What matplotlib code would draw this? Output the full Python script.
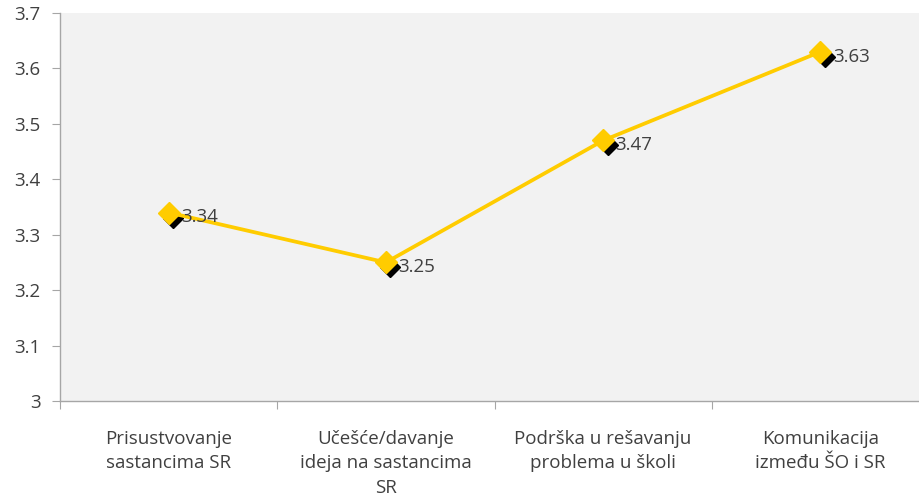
import matplotlib
matplotlib.use("Agg")
import matplotlib.pyplot as plt
from matplotlib.ticker import FixedLocator, NullFormatter, FuncFormatter
import matplotlib.transforms as mtransforms

categories = ["Prisustvovanje\nsastancima SR",
              "Učešće/davanje\nideja na sastancima\nSR",
              "Podrška u rešavanju\nproblema u školi",
              "Komunikacija\nizmeđu ŠO i SR"]
values = [3.34, 3.25, 3.47, 3.63]
yticks = [3.0, 3.1, 3.2, 3.3, 3.4, 3.5, 3.6, 3.7]

plt.rcParams['font.family'] = ['Open Sans', 'DejaVu Sans']

W, H = 919, 499
fig = plt.figure(figsize=(W/100, H/100), dpi=100)
left, right, top, bottom = 60, 929, 13, 401
ax = fig.add_axes([left/W, 1-bottom/H, (right-left)/W, (bottom-top)/H])
ax.set_facecolor('#f2f2f2')

x = list(range(len(categories)))
ax.set_xlim(-0.5, len(categories)-0.5)
ax.set_ylim(3.0, 3.7)

# shadow markers
shadow = mtransforms.offset_copy(ax.transData, fig=fig, x=3.2, y=-3.6, units='points')
ax.plot(x, values, linestyle='none', marker='D', markersize=10.5, color='black',
        transform=shadow, zorder=2, clip_on=False)
ax.plot(x, values, color='#FFCC00', linewidth=2.7, marker='D', markersize=11.5,
        markerfacecolor='#FFCC00', markeredgecolor='#FFCC00', zorder=3, clip_on=False)

for xi, v in zip(x, values):
    ax.annotate(f"{v:.2f}", (xi, v), xytext=(9, -3.5), textcoords='offset points',
                ha='left', va='center', fontsize=13.5, color='#404040', zorder=4)

for s in ['top', 'right']:
    ax.spines[s].set_visible(False)
for s in ['left', 'bottom']:
    ax.spines[s].set_color('#a6a6a6')
    ax.spines[s].set_linewidth(1)

ax.set_yticks(yticks)
ax.yaxis.set_major_formatter(FuncFormatter(lambda v, p: f"{v:g}"))
ax.tick_params(axis='y', length=6, color='#a6a6a6', labelsize=13.5, labelcolor='#404040', pad=8)

ax.xaxis.set_major_locator(FixedLocator([-0.5, 0.5, 1.5, 2.5, 3.5]))
ax.xaxis.set_major_formatter(NullFormatter())
ax.xaxis.set_minor_locator(FixedLocator(x))
ax.set_xticklabels(categories, minor=True)
ax.tick_params(axis='x', which='major', length=6, color='#a6a6a6')
ax.tick_params(axis='x', which='minor', length=0, labelsize=13.5, labelcolor='#404040', pad=21)
for lbl in ax.get_xticklabels(minor=True):
    lbl.set_linespacing(1.45)

fig.savefig("out.png", dpi=100)
